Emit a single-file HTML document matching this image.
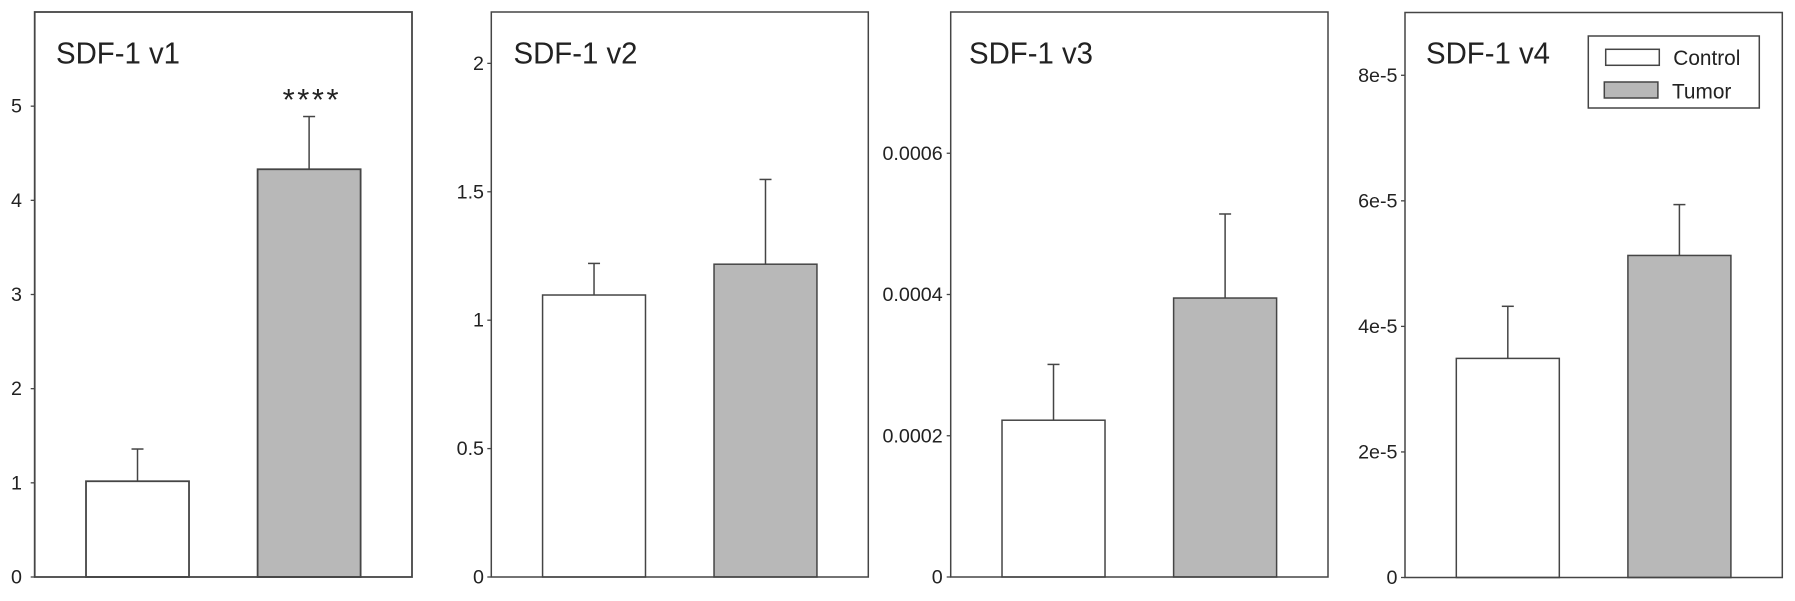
<!DOCTYPE html>
<html lang="en">
<head>
<meta charset="utf-8">
<title>SDF-1 variant expression</title>
<style>
html,body{margin:0;padding:0;background:#fff;width:1795px;height:601px;overflow:hidden}
svg{display:block;font-family:"Liberation Sans",sans-serif}
</style>
</head>
<body>
<svg id="figure" xmlns="http://www.w3.org/2000/svg" width="1795" height="601" viewBox="0 0 1795 601"></svg>
<script>
// ---- data ----
const categories = ['Control', 'Tumor'];
const titles = ['SDF-1 v1', 'SDF-1 v2', 'SDF-1 v3', 'SDF-1 v4'];

const v1Values = [1.017, 4.33];
const v1ErrorTops = [1.359, 4.89];
const v1Ticks = [0, 1, 2, 3, 4, 5];
const v1TickLabels = ['0', '1', '2', '3', '4', '5'];
const v1Max = 6;

const v2Values = [1.098, 1.218];
const v2ErrorTops = [1.221, 1.548];
const v2Ticks = [0, 0.5, 1, 1.5, 2];
const v2TickLabels = ['0', '0.5', '1', '1.5', '2'];
const v2Max = 2.2;

const v3Values = [0.000222, 0.000395];
const v3ErrorTops = [0.000301, 0.000514];
const v3Ticks = [0, 0.0002, 0.0004, 0.0006];
const v3TickLabels = ['0', '0.0002', '0.0004', '0.0006'];
const v3Max = 0.0008;

const v4Values = [3.49e-5, 5.13e-5];
const v4ErrorTops = [4.32e-5, 5.94e-5];
const v4Ticks = [0, 2e-5, 4e-5, 6e-5, 8e-5];
const v4TickLabels = ['0', '2e-5', '4e-5', '6e-5', '8e-5'];
const v4Max = 9e-5;

const significanceLabel = '****';

// ---- layout ----
const STROKE = '#454545';
const FILLS = ['#ffffff', '#b8b8b8'];
const INK = '#222222';
const NS = 'http://www.w3.org/2000/svg';
const svg = document.getElementById('figure');

const panels = [
  {key:'v1', left:34.7, right:412, top:12, bottom:577, labelGap:12.7, sw:1.8, values:v1Values, errs:v1ErrorTops, ticks:v1Ticks, labels:v1TickLabels, max:v1Max, title:titles[0], titleX:56},
  {key:'v2', left:491.3, right:868.3, top:12, bottom:577, labelGap:7.3, sw:1.5, values:v2Values, errs:v2ErrorTops, ticks:v2Ticks, labels:v2TickLabels, max:v2Max, title:titles[1], titleX:513.5},
  {key:'v3', left:950.7, right:1328, top:12, bottom:577, labelGap:8, sw:1.5, values:v3Values, errs:v3ErrorTops, ticks:v3Ticks, labels:v3TickLabels, max:v3Max, title:titles[2], titleX:969},
  {key:'v4', left:1405, right:1782.3, top:12.5, bottom:577.5, labelGap:7.5, sw:1.5, values:v4Values, errs:v4ErrorTops, ticks:v4Ticks, labels:v4TickLabels, max:v4Max, title:titles[3], titleX:1426}
];

function mk(tag, attrs, text, parent) {
  const node = document.createElementNS(NS, tag);
  for (const k in attrs) node.setAttribute(k, attrs[k]);
  if (text !== undefined && text !== null) node.textContent = text;
  (parent || svg).appendChild(node);
  return node;
}

function drawPanel(p) {
  const g = mk('g', {});
  
  

  const yScale = v => p.bottom - (v / p.max) * (p.bottom - p.top);
  const width = p.right - p.left;
  const barWidth = width * 0.2730;
  const xCenter = i => p.left + width * (0.2725 + 0.4548 * i);

  // bars and error bars
  p.values.forEach((v, i) => {
    const cx = xCenter(i);
    const yTop = yScale(v);
    const yErr = yScale(p.errs[i]);

    const stem = mk('line', {x1:cx, x2:cx, y1:yTop, y2:yErr, stroke:STROKE, 'stroke-width':1.5}, null, g);
    
    

    const cap = mk('line', {x1:cx - 6, x2:cx + 6, y1:yErr, y2:yErr, stroke:STROKE, 'stroke-width':1.5}, null, g);
    
    

    const bar = mk('rect', {x:cx - barWidth / 2, y:yTop, width:barWidth, height:p.bottom - yTop, fill:FILLS[i], stroke:STROKE, 'stroke-width':p.sw}, null, g);
    
    
  });

  // frame
  const frame = mk('rect', {x:p.left, y:p.top, width:width, height:p.bottom - p.top, fill:'none', stroke:STROKE, 'stroke-width':p.sw}, null, g);
  
  

  // y-axis ticks and labels
  p.ticks.forEach((t, i) => {
    const y = yScale(t);
    const tick = mk('line', {x1:p.left - 4, x2:p.left, y1:y, y2:y, stroke:STROKE, 'stroke-width':1.3}, null, g);
    
    

    const label = mk('text', {x:p.left - p.labelGap, y:y + 6.5, 'text-anchor':'end', 'font-size':19.7, fill:INK}, p.labels[i], g);
    
    
  });

  // title
  const title = mk('text', {x:p.titleX, y:63.3, 'font-size':31, textLength:124, lengthAdjust:'spacingAndGlyphs', fill:INK}, p.title, g);
  
  

  return {g, xCenter, yScale};
}

const drawn = panels.map(drawPanel);

// significance marker above the v1 tumor bar
const stars = mk('text', {x:drawn[0].xCenter(1) + 1.5, y:110, 'text-anchor':'middle', 'font-size':31, textLength:56, lengthAdjust:'spacing', fill:INK}, significanceLabel, drawn[0].g);



// legend
const legend = mk('g', {});



const legendBox = mk('rect', {x:1588.3, y:36, width:171, height:72, fill:'#fff', stroke:STROKE, 'stroke-width':1.5}, null, legend);



const legendSwatchX = [1605.7, 1604.3];
const legendSwatchY = [49.3, 82];
const legendTextX = [1673.3, 1672];
const legendTextY = [65, 98.7];
categories.forEach((name, i) => {
  const swatch = mk('rect', {x:legendSwatchX[i], y:legendSwatchY[i], width:53.6, height:16, fill:FILLS[i], stroke:STROKE, 'stroke-width':1.5}, null, legend);
  
  

  const entry = mk('text', {x:legendTextX[i], y:legendTextY[i], 'font-size':20.8, fill:INK}, name, legend);
  
  
});
</script>
</body>
</html>
